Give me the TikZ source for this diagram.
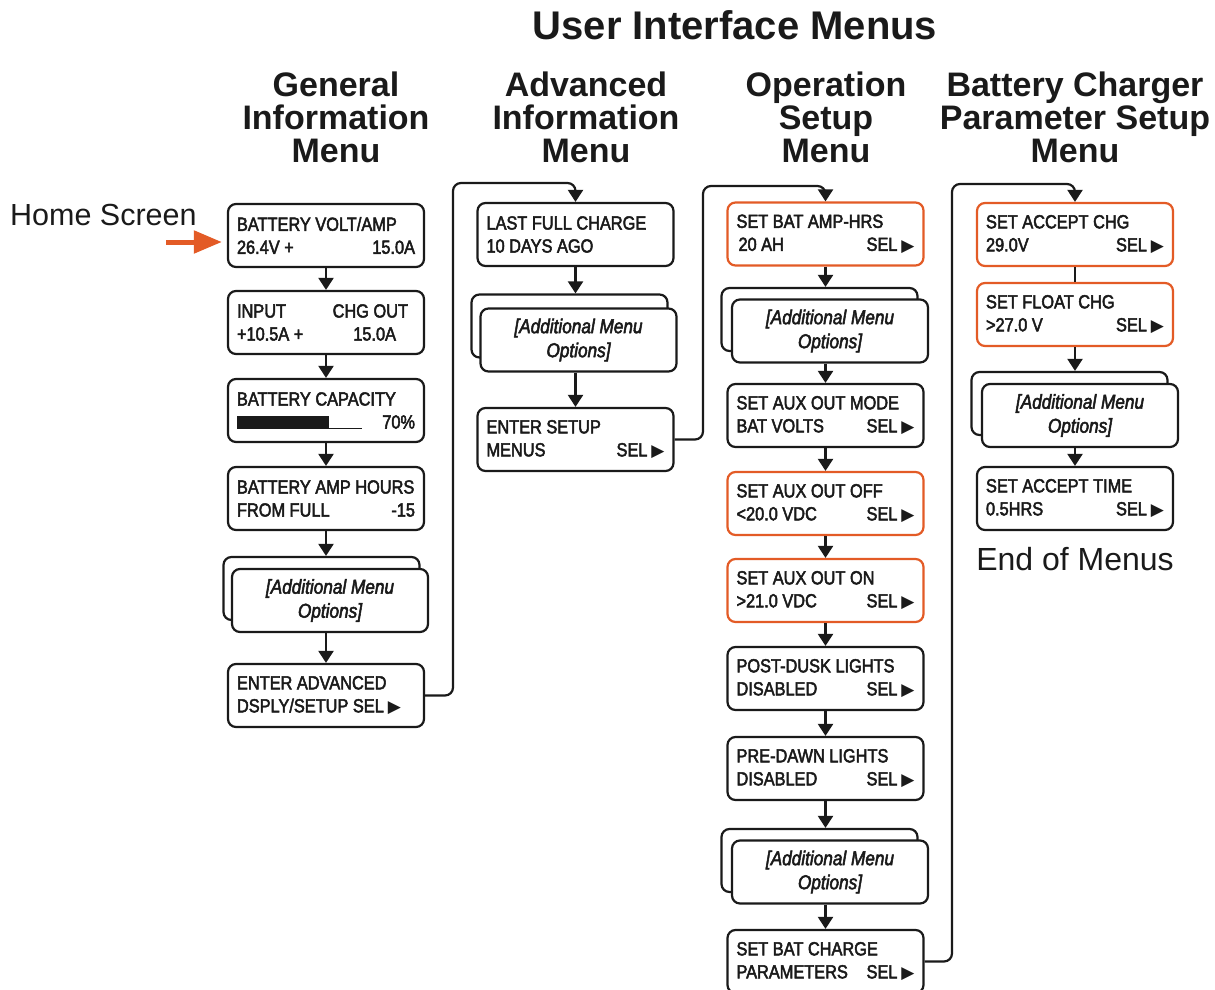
\documentclass[tikz,border=0pt]{standalone}
\usepackage{fontspec}
\setmainfont{Liberation Sans}
\newfontfamily\lcdfont[FakeStretch=0.86, FakeBold=2.5]{Liberation Sans}
\newfontfamily\symfont{DejaVu Sans}
\usetikzlibrary{arrows.meta, positioning}
\definecolor{UI_Orange}{HTML}{E35B26}
\definecolor{UI_Black}{HTML}{1A1A1A}

\newcommand{\lcdrow}[2]{\makebox[178pt][l]{#1\hfill#2}}
\newcommand{\selmark}{SEL\hspace{4pt}{\symfont\fontsize{17}{17}\selectfont\raisebox{-0.5pt}{▶}}}

\tikzset{
  menubox/.style={draw=UI_Black, line width=2.2pt, rounded corners=8pt, fill=white,
    minimum width=196pt, minimum height=63pt, inner sep=0pt, align=left,
    text=UI_Black, font={\lcdfont\fontsize{19}{23}\selectfont}},
  setbox/.style={menubox, draw=UI_Orange},
  morebox/.style={menubox, align=center, font={\lcdfont\itshape\fontsize{20}{24}\selectfont}},
  flow/.style={draw=UI_Black, line width=2.2pt, -{Triangle[width=15pt,length=12pt]}},
  menuhead/.style={align=center, inner sep=0pt, anchor=north, text=UI_Black,
    font={\bfseries\fontsize{34}{33}\selectfont}},
}

\begin{document}
\begin{tikzpicture}[x=1pt,y=-1pt]
    \useasboundingbox (0,0) rectangle (1215,990);

    % Titles
    \node[anchor=base, inner sep=0pt, text=UI_Black, font={\bfseries\fontsize{40}{40}\selectfont}] (title) at (735,40) {User Interface Menus};
    \node[menuhead] (genhead) at (336,72) {General\\Information\\Menu};
    \node[menuhead] (advhead) at (586,72) {Advanced\\Information\\Menu};
    \node[menuhead] (ophead) at (826,72) {Operation\\Setup\\Menu};
    \node[menuhead] (chghead) at (1075,72) {Battery Charger\\Parameter Setup\\Menu};

    % Column 1: general information
    \node[menubox] (volt) at (326,235.5) {\lcdrow{BATTERY VOLT/AMP}{}\\\lcdrow{26.4V +}{15.0A}};
    \node[menubox] (input) at (326,322.5) {\lcdrow{INPUT}{CHG OUT\hspace{7pt}}\\\lcdrow{+10.5A +}{15.0A\hspace{19pt}}};
    \node[menubox] (capacity) at (326,410.5) {\lcdrow{BATTERY CAPACITY}{}\\\lcdrow{\rule{92pt}{13pt}\rule{33pt}{0.8pt}}{70\%}};
    \node[menubox] (amphours) at (326,498.5) {\lcdrow{BATTERY AMP HOURS}{}\\\lcdrow{FROM FULL}{-15}};
    \node[morebox] (genmoreb) at (321.5,588.5) {};
    \node[morebox] (genmore) at (330,600.5) {[Additional Menu\\Options]};
    \node[menubox] (enteradv) at (326,695.5) {\lcdrow{ENTER ADVANCED}{}\\\lcdrow{DSPLY/SETUP \selmark}{}};

    % Column 2: advanced information
    \node[menubox] (lastfull) at (575.5,234.5) {\lcdrow{LAST FULL CHARGE}{}\\\lcdrow{10 DAYS AGO}{}};
    \node[morebox] (advmoreb) at (569.5,326) {};
    \node[morebox] (advmore) at (578.5,340) {[Additional Menu\\Options]};
    \node[menubox] (entersetup) at (575.5,439.5) {\lcdrow{ENTER SETUP}{}\\\lcdrow{MENUS}{\selmark}};

    % Column 3: operation setup
    \node[setbox] (amphrs) at (825.5,234) {\lcdrow{SET BAT AMP-HRS}{}\\\lcdrow{\hspace{2pt}20 AH}{\selmark}};
    \node[morebox] (opmoreb) at (819.5,319.5) {};
    \node[morebox] (opmore) at (830,331) {[Additional Menu\\Options]};
    \node[menubox] (auxmode) at (825.5,415.5) {\lcdrow{SET AUX OUT MODE}{}\\\lcdrow{BAT VOLTS}{\selmark}};
    \node[setbox] (auxoff) at (825.5,503.5) {\lcdrow{SET AUX OUT OFF}{}\\\lcdrow{<20.0 VDC}{\selmark}};
    \node[setbox] (auxon) at (825.5,590.5) {\lcdrow{SET AUX OUT ON}{}\\\lcdrow{>21.0 VDC}{\selmark}};
    \node[menubox] (postdusk) at (825.5,678.5) {\lcdrow{POST-DUSK LIGHTS}{}\\\lcdrow{DISABLED}{\selmark}};
    \node[menubox] (predawn) at (825.5,768.5) {\lcdrow{PRE-DAWN LIGHTS}{}\\\lcdrow{DISABLED}{\selmark}};
    \node[morebox] (lightmoreb) at (819.5,860.5) {};
    \node[morebox] (lightmore) at (830,872) {[Additional Menu\\Options]};
    \node[menubox] (chgparams) at (825.5,961.5) {\lcdrow{SET BAT CHARGE}{}\\\lcdrow{PARAMETERS}{\selmark}};

    % Column 4: battery charger parameters
    \node[setbox] (accept) at (1075,234.5) {\lcdrow{SET ACCEPT CHG}{}\\\lcdrow{29.0V}{\selmark}};
    \node[setbox] (float) at (1075,314.5) {\lcdrow{SET FLOAT CHG}{}\\\lcdrow{>27.0 V}{\selmark}};
    \node[morebox] (chgmoreb) at (1069.5,403.5) {};
    \node[morebox] (chgmore) at (1080,415.5) {[Additional Menu\\Options]};
    \node[menubox] (accepttime) at (1075,498.5) {\lcdrow{SET ACCEPT TIME}{}\\\lcdrow{0.5HRS}{\selmark}};

    % Side labels
    \node[anchor=base west, inner sep=0pt, text=UI_Black, font={\fontsize{30.5}{30}\selectfont}] (home) at (10,225) {Home Screen};
    \node[anchor=base, inner sep=0pt, text=UI_Black, font={\fontsize{32}{32}\selectfont}] (endmenus) at (1075,570) {End of Menus};
    \coordinate (hometail) at (166,242);
    \draw[UI_Orange, line width=5pt, -{Triangle[width=22pt,length=28pt]}, shorten >=5pt] (hometail) -- (hometail -| volt.west);

    % Arrows within columns
    \draw[flow] (volt.south) -- (input.north);
    \draw[flow] (input.south) -- (capacity.north);
    \draw[flow] (capacity.south) -- (amphours.north);
    \draw[flow] (amphours.south) -- (amphours.south |- genmoreb.north);
    \draw[flow] (enteradv.north |- genmore.south) -- (enteradv.north);

    \draw[flow] (lastfull.south) -- (lastfull.south |- advmoreb.north);
    \draw[flow] (entersetup.north |- advmore.south) -- (entersetup.north);

    \draw[flow] (amphrs.south) -- (amphrs.south |- opmoreb.north);
    \draw[flow] (auxmode.north |- opmore.south) -- (auxmode.north);
    \draw[flow] (auxmode.south) -- (auxoff.north);
    \draw[flow] (auxoff.south) -- (auxon.north);
    \draw[flow] (auxon.south) -- (postdusk.north);
    \draw[flow] (postdusk.south) -- (predawn.north);
    \draw[flow] (predawn.south) -- (predawn.south |- lightmoreb.north);
    \draw[flow] (chgparams.north |- lightmore.south) -- (chgparams.north);

    \draw[UI_Black, line width=2.2pt] (accept.south) -- (float.north);
    \draw[flow] (float.south) -- (float.south |- chgmoreb.north);
    \draw[flow] (accepttime.north |- chgmore.south) -- (accepttime.north);

    % Arrows between columns
    \coordinate (hop1) at (453,183);
    \coordinate (hop2) at (703,186);
    \coordinate (hop3) at (952,184);
    \draw[flow, rounded corners=8pt] (enteradv.east) -| (hop1) -| (lastfull.north);
    \draw[flow, rounded corners=8pt] (entersetup.east) -| (hop2) -| (amphrs.north);
    \draw[flow, rounded corners=8pt] (chgparams.east) -| (hop3) -| (accept.north);
\end{tikzpicture}
\end{document}
